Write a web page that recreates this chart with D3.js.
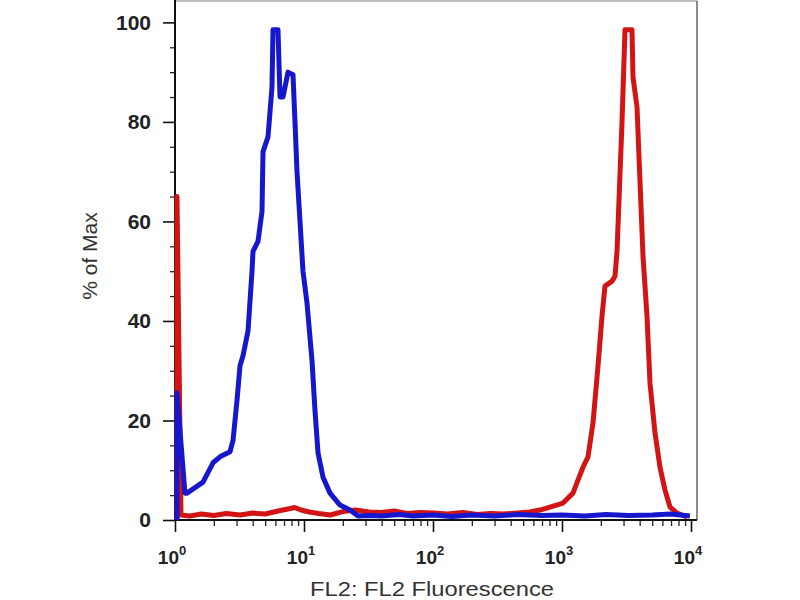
<!DOCTYPE html>
<html>
<head>
<meta charset="utf-8">
<script src="https://cdn.jsdelivr.net/npm/d3@7"></script>
<style>
  body { margin: 0; background: #fff; }
  text { font-family: "Liberation Sans", Arial, sans-serif; }
</style>
</head>
<body>
<script>
const w = 800
const h = 600

// histogram overlay, x = FL2 intensity, y = % of max
const blueX = [1.036, 1.036, 1.195, 1.239, 1.648, 1.971, 2.233, 2.669, 2.817, 3.024, 3.191, 3.367, 3.682, 3.954, 4.025, 4.4, 4.726, 4.812, 5.26, 5.648, 5.75, 6.287, 6.516, 6.875, 7.516, 8.217, 8.515, 8.826, 9.311, 9.822, 10.55, 11.54, 12.17, 12.84, 14.04, 15.91, 19.01, 22.73, 26.22, 32.5, 40, 55, 70, 100, 140, 200, 300, 450, 700, 1000, 1500, 2200, 3300, 5000, 7000, 9800]
const blueY = [0, 25.5, 5.4, 5.4, 7.6, 11.5, 12.7, 13.7, 16, 24, 31, 33, 38, 50, 54, 56, 62, 74, 77, 87, 98.5, 98.5, 85, 85, 90, 89.5, 80, 70, 60, 50, 43.6, 32, 22, 13.5, 8.6, 5.4, 3, 2, 0.8, 0.9, 0.8, 1.1, 0.8, 1.0, 0.7, 1.0, 0.8, 1.1, 0.9, 1.0, 0.8, 1.1, 0.9, 1.0, 1.2, 0.8]

const redX = [1.036, 1.036, 1.113, 1.3, 1.6, 2.0, 2.5, 3.2, 4.0, 5.0, 6.3, 7.5, 8.5, 9.5, 11, 13, 16, 20, 25, 32, 40, 50, 63, 80, 100, 130, 170, 220, 280, 350, 450, 560, 675, 807, 1018, 1217, 1307, 1455, 1591, 1739, 1902, 2043, 2154, 2441, 2576, 2670, 2919, 3079, 3488, 3551, 3815, 4246, 4559, 4811, 5260, 5750, 6287, 6875, 7790, 9311]
const redY = [0, 65, 1.0, 0.8, 1.2, 0.9, 1.3, 1.0, 1.4, 1.2, 1.8, 2.2, 2.5, 2.0, 1.6, 1.3, 1.0, 1.7, 2.0, 1.6, 1.5, 1.8, 1.3, 1.5, 1.4, 1.2, 1.5, 1.1, 1.3, 1.2, 1.4, 1.6, 2.0, 2.6, 3.4, 5.4, 7.5, 10.6, 12.7, 19.5, 31, 41, 47, 48, 49, 54, 80, 98.5, 98.5, 89, 83, 53, 41, 27.5, 17.5, 10.6, 6, 2.6, 1.4, 0.6]

const xTicks = [1, 10, 100, 1000, 10000]
const xExponents = ['0', '1', '2', '3', '4']
const yTicks = [0, 20, 40, 60, 80, 100]

const xScale = d3.scaleLog()
    .domain([1, 10000])
    .range([175, 691])

const yScale = d3.scaleLinear()
    .domain([0, 104.5])
    .range([520, 0])

const svg = d3.select('body')
    .append('svg')
    .attr('width', w)
    .attr('height', h)

// frame (top & right)
svg.append('line')
    .attr('x1', 175).attr('x2', 697).attr('y1', 1).attr('y2', 1)
    .attr('stroke', '#aaa').attr('stroke-width', 1.5)
svg.append('line')
    .attr('x1', 697).attr('x2', 697).attr('y1', 1).attr('y2', 520)
    .attr('stroke', '#666').attr('stroke-width', 1.5)

// minor ticks
const xMinor = []
for (let e = 0; e < 4; e++) {
    for (let k = 2; k <= 9; k++) xMinor.push(k * Math.pow(10, e))
}
svg.append('g')
    .attr('transform', 'translate(0,520)')
    .call(d3.axisBottom(xScale).tickValues(xMinor).tickFormat('').tickSize(6))
    .call(g => g.select('.domain').remove())
    .selectAll('line').attr('stroke', '#222').attr('stroke-width', 1.3)

const yMinor = d3.range(5, 101, 5).filter(d => d % 20 !== 0)
svg.append('g')
    .attr('transform', 'translate(175,0)')
    .call(d3.axisLeft(yScale).tickValues(yMinor).tickFormat('').tickSize(5))
    .call(g => g.select('.domain').remove())
    .selectAll('line').attr('stroke', '#222').attr('stroke-width', 1.3)

// major axes
const xAxis = svg.append('g')
    .attr('transform', 'translate(0,520)')
    .call(d3.axisBottom(xScale).tickValues(xTicks).tickFormat('').tickSize(12).tickSizeOuter(0))
xAxis.select('.domain').attr('stroke', '#111').attr('stroke-width', 2)
    .attr('d', 'M175,0H697')
xAxis.selectAll('line').attr('stroke', '#111').attr('stroke-width', 1.6)

const xLabel = svg.append('g').selectAll('text')
    .data(xTicks)
    .join('text')
    .attr('x', d => xScale(d) - 3)
    .attr('y', 564)
    .attr('text-anchor', 'middle')
    .attr('fill', '#222')
    .attr('font-weight', 'bold')
    .attr('font-size', 19)
xLabel.append('tspan').text('10')
xLabel.append('tspan')
    .attr('dy', -9)
    .attr('font-size', 13)
    .text((d, i) => xExponents[i])

const yAxis = svg.append('g')
    .attr('transform', 'translate(175,0)')
    .call(d3.axisLeft(yScale).tickValues(yTicks).tickSize(12).tickSizeOuter(0).tickPadding(12))
yAxis.select('.domain').attr('stroke', '#111').attr('stroke-width', 2)
    .attr('d', 'M0,0V520')
yAxis.selectAll('line').attr('stroke', '#111').attr('stroke-width', 1.6)
yAxis.selectAll('text')
    .attr('font-family', '"Liberation Sans", Arial, sans-serif')
    .attr('font-size', 21)
    .attr('font-weight', 'bold')
    .attr('fill', '#222')

// axis titles
svg.append('text')
    .attr('x', 432)
    .attr('y', 596)
    .attr('text-anchor', 'middle')
    .attr('font-size', 21)
    .attr('fill', '#333')
    .attr('textLength', 244)
    .attr('lengthAdjust', 'spacingAndGlyphs')
    .text('FL2: FL2 Fluorescence')

svg.append('text')
    .attr('transform', 'translate(97,256) rotate(-90)')
    .attr('text-anchor', 'middle')
    .attr('font-size', 21)
    .attr('fill', '#333')
    .text('% of Max')

// histogram lines
const lineFun = d3.line()
    .x(d => xScale(d[0]))
    .y(d => yScale(d[1]))
    .curve(d3.curveLinear)

svg.append('path')
    .attr('d', lineFun(d3.zip(redX, redY)))
    .attr('stroke', '#d21414')
    .attr('stroke-width', 5)
    .attr('stroke-linejoin', 'round')
    .attr('fill', 'none')

svg.append('path')
    .attr('d', lineFun(d3.zip(blueX, blueY)))
    .attr('stroke', '#1616cc')
    .attr('stroke-width', 5)
    .attr('stroke-linejoin', 'round')
    .attr('fill', 'none')
</script>
</body>
</html>
